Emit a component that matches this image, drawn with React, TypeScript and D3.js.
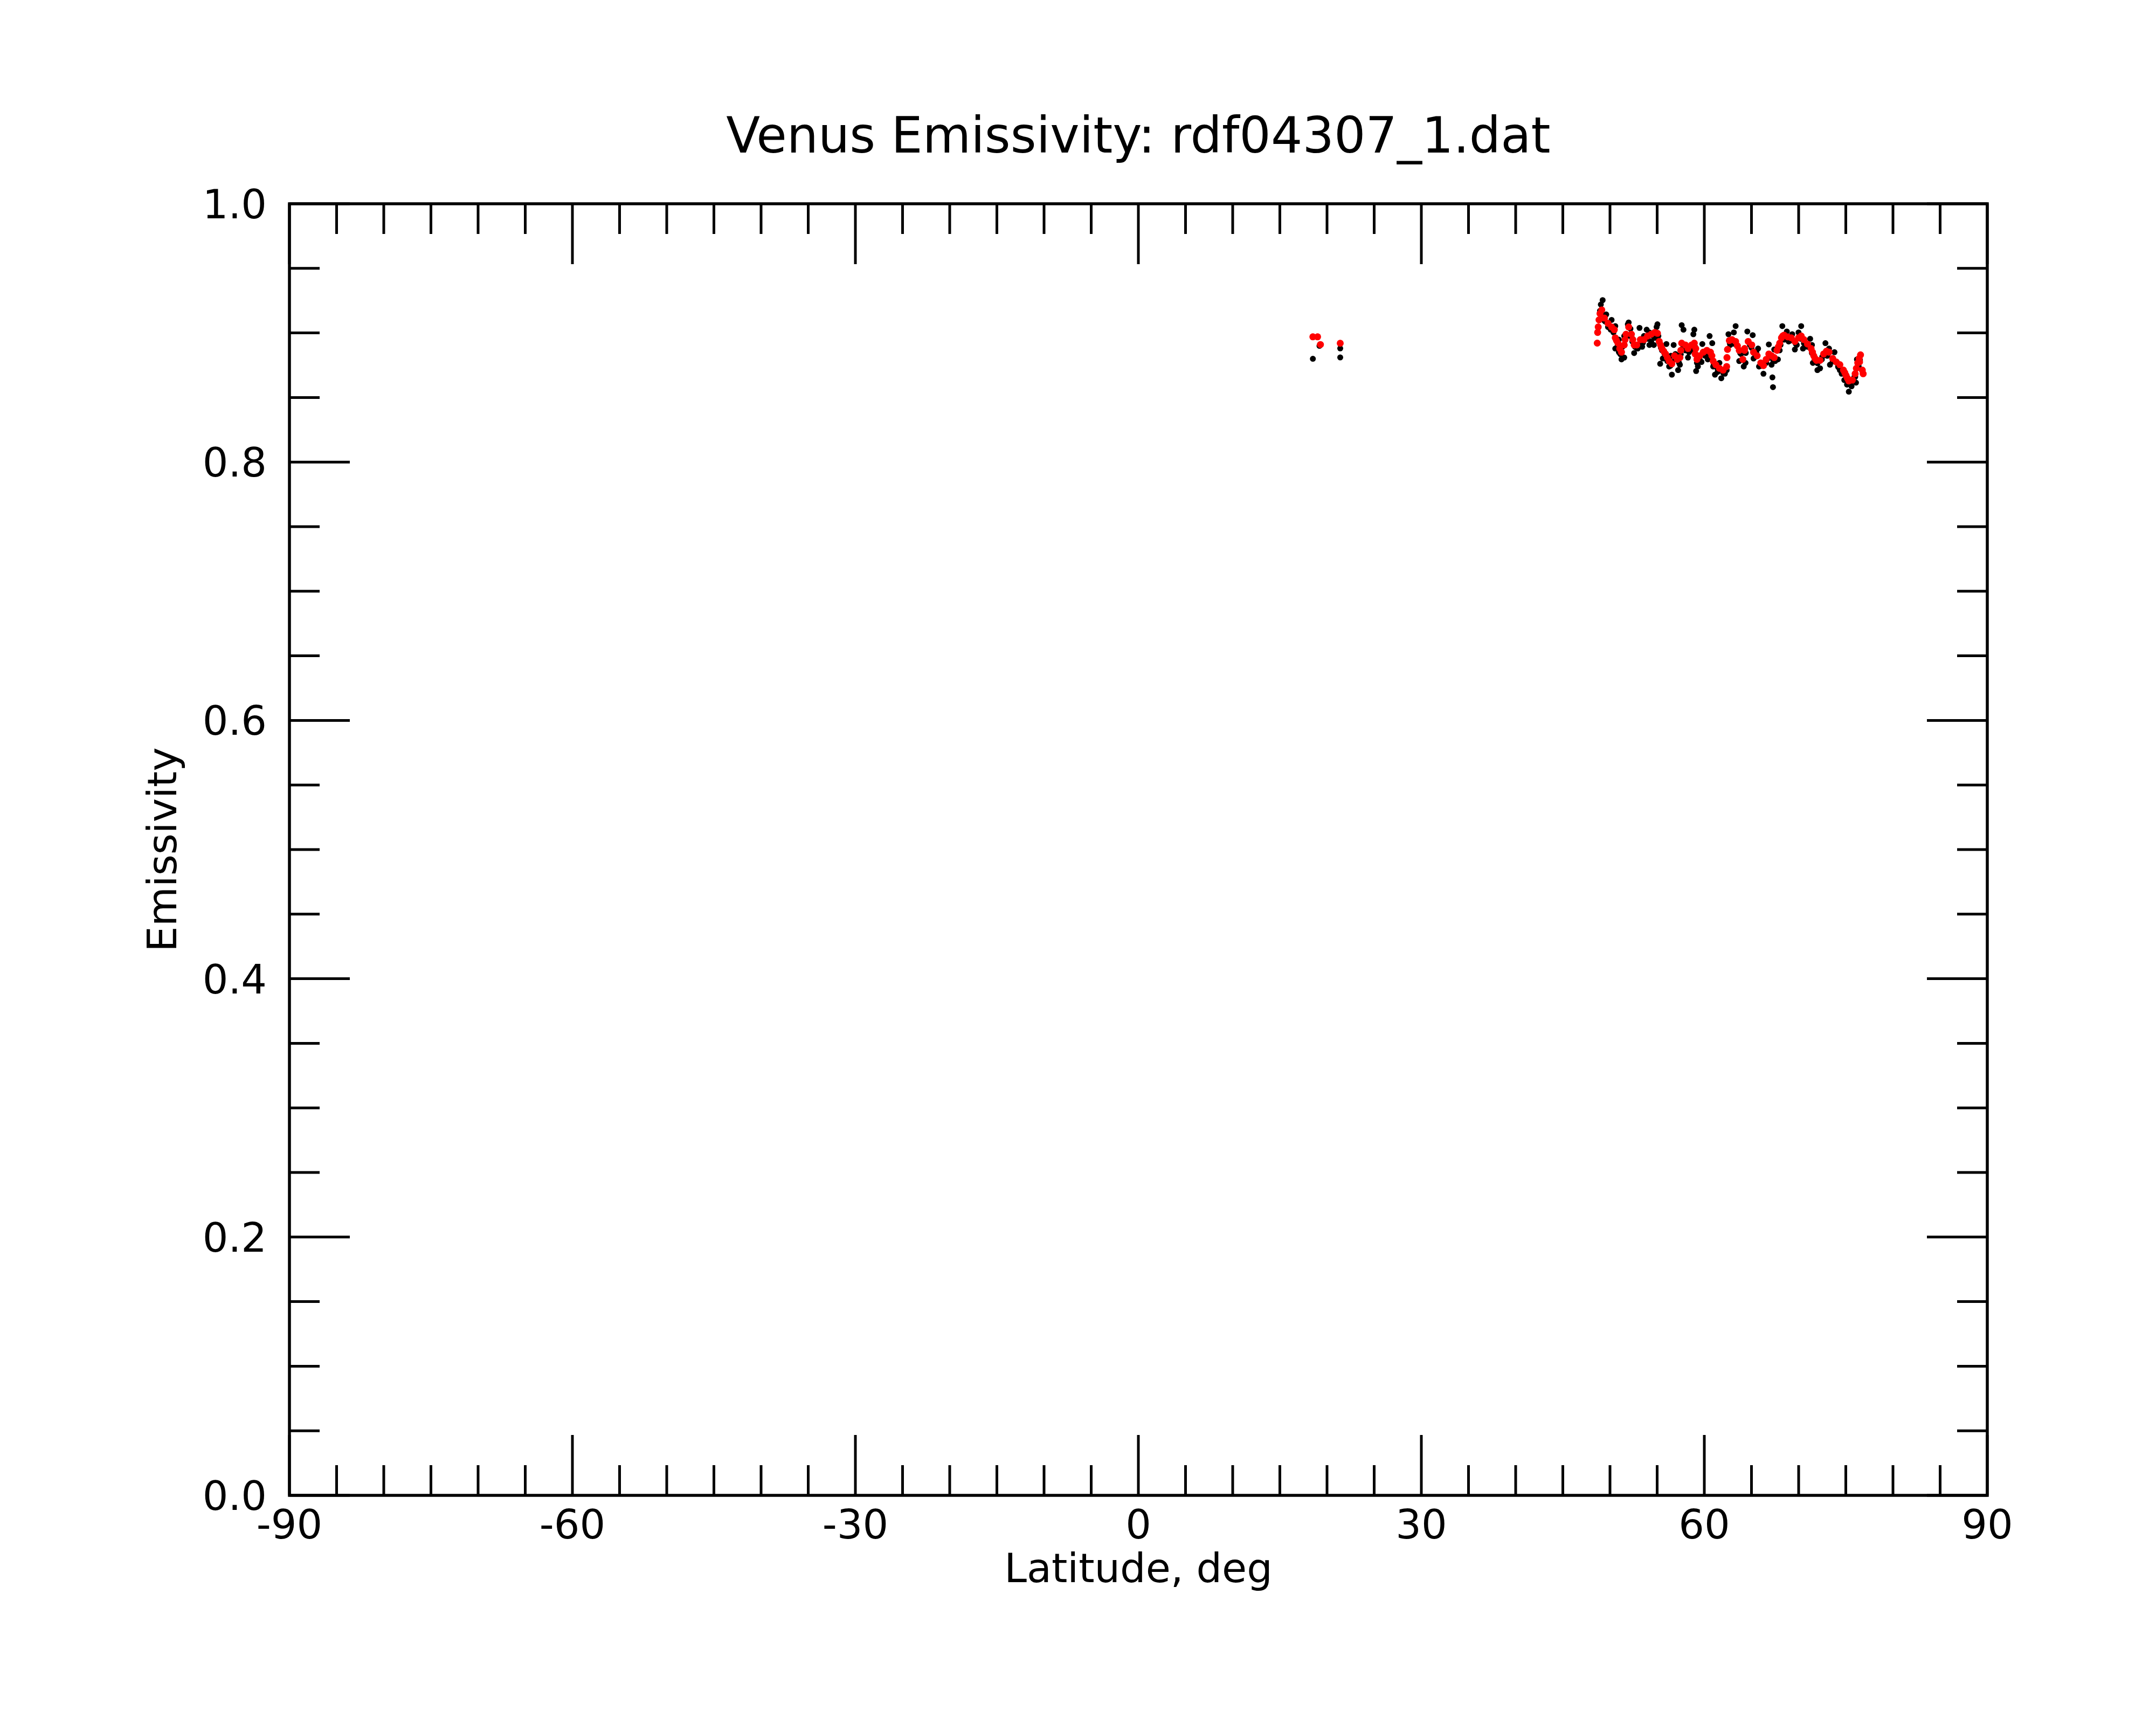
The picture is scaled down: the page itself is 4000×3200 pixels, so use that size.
import * as d3 from "d3"

// latitude ticks (deg) and emissivity ticks
const xMajorTicks = [-90, -60, -30, 0, 30, 60, 90]
const xMinorTicks = d3.range(-90, 91, 5).filter((t) => t % 30 !== 0)
const yMajorTicks = [0, 0.2, 0.4, 0.6, 0.8, 1.0]
const yMinorTicks = [0.05, 0.1, 0.15, 0.25, 0.3, 0.35, 0.45, 0.5, 0.55, 0.65, 0.7, 0.75, 0.85, 0.9, 0.95]
const yTickLabels = ["0.0", "0.2", "0.4", "0.6", "0.8", "1.0"]

// raw samples (black), [latitude, emissivity]
const rawLowLat: [number, number][] = [
  [18.5, 0.880], [19.2, 0.890], [21.4, 0.888], [21.4, 0.881],
]

const rawHighLat: [number, number][] = [
  [49.22, 0.9254], [49.03, 0.922], [48.94, 0.9171], [49.22, 0.9143], [49.6, 0.9143], [49.51, 0.9088],
  [49.79, 0.9046], [50.17, 0.9101], [50.08, 0.9025], [50.56, 0.9053], [50.37, 0.9004], [50.65, 0.8948],
  [50.94, 0.8948], [50.56, 0.8879], [50.94, 0.8851], [51.22, 0.8795], [51.51, 0.8809], [51.32, 0.8893],
  [51.51, 0.8976], [51.89, 0.9067], [51.98, 0.9081], [52.17, 0.9032], [52.37, 0.8934], [52.56, 0.8844],
  [52.65, 0.8893], [52.94, 0.8879], [53.13, 0.9039], [53.22, 0.8921], [53.41, 0.8893], [53.6, 0.8976],
  [53.89, 0.9025], [54.18, 0.9004], [54.18, 0.8907], [54.37, 0.8934], [54.65, 0.8907], [54.75, 0.8962],
  [54.94, 0.9046], [55.03, 0.9067], [55.13, 0.8976], [55.32, 0.8761], [55.51, 0.8865], [55.6, 0.8802],
  [55.79, 0.8837], [55.98, 0.8914], [56.08, 0.8782], [56.27, 0.874], [56.46, 0.8823], [56.56, 0.8677],
  [56.75, 0.8907], [56.94, 0.8837], [57.22, 0.8712], [57.32, 0.8768], [57.41, 0.8754], [57.6, 0.906],
  [57.79, 0.9025], [57.7, 0.8879], [57.99, 0.8865], [58.27, 0.8809], [58.37, 0.8851], [58.84, 0.899],
  [58.94, 0.9025], [58.75, 0.8865], [59.13, 0.8705], [59.22, 0.8768], [59.32, 0.874], [59.7, 0.8775],
  [59.79, 0.8914], [60.08, 0.8823], [60.37, 0.8795], [60.56, 0.8976], [60.84, 0.8921], [60.94, 0.874],
  [61.13, 0.8677], [61.41, 0.8698], [61.8, 0.8649], [61.6, 0.8768], [62.18, 0.8684], [62.37, 0.8712],
  [62.56, 0.899], [62.75, 0.8907], [63.13, 0.9004], [63.32, 0.9053], [63.41, 0.8907], [63.7, 0.8782],
  [63.89, 0.8837], [64.08, 0.8851],
  [64.18, 0.874], [64.37, 0.8768], [64.56, 0.9011], [64.84, 0.8907], [65.13, 0.8983], [65.22, 0.8802],
  [65.51, 0.8851], [65.7, 0.8879], [65.8, 0.874], [66.08, 0.8754], [66.27, 0.8684], [66.56, 0.8768],
  [66.84, 0.8911], [67.13, 0.8754], [67.22, 0.8656], [67.28, 0.858], [67.41, 0.8872], [67.51, 0.8782],
  [67.8, 0.8795], [67.99, 0.8865], [68.08, 0.8907], [68.27, 0.9053], [68.46, 0.8948], [68.75, 0.9011],
  [68.94, 0.8934], [69.32, 0.899], [69.6, 0.8872], [69.8, 0.8907], [69.99, 0.9004], [70.27, 0.9053],
  [70.46, 0.8879], [70.56, 0.8921], [70.94, 0.8893], [71.22, 0.8955], [71.41, 0.8907], [71.51, 0.8768],
  [71.7, 0.8795], [71.99, 0.8712], [72.27, 0.8726], [72.46, 0.8795], [72.84, 0.8921], [73.03, 0.8823],
  [73.22, 0.8879], [73.32, 0.8754], [73.61, 0.8782], [73.8, 0.8851], [74.18, 0.874], [74.37, 0.8712],
  [74.56, 0.8684], [74.84, 0.8635], [75.13, 0.86], [75.32, 0.8545], [75.61, 0.8587], [75.89, 0.8656],
  [76.08, 0.8615], [76.18, 0.8795], [76.37, 0.874],
  // band points just under the red trace
  [49.4, 0.9095], [50.0, 0.9035], [50.8, 0.8895], [51.1, 0.8835], [51.8, 0.8975], [52.3, 0.8965],
  [52.8, 0.8885], [53.5, 0.8925], [54.0, 0.8955], [54.6, 0.8975], [55.4, 0.8885], [55.9, 0.8815],
  [56.4, 0.8745], [56.9, 0.8795], [57.5, 0.8835], [57.9, 0.8885], [58.5, 0.8885], [59.0, 0.8895],
  [59.5, 0.8795], [60.0, 0.8835], [60.5, 0.8835], [61.0, 0.8755], [61.4, 0.8725], [62.0, 0.8690],
  [62.7, 0.8920], [63.2, 0.8915], [63.8, 0.8845], [64.4, 0.8845], [65.0, 0.8885], [65.4, 0.8815],
  [66.0, 0.8745], [66.7, 0.8800], [67.3, 0.8790], [67.9, 0.8895], [68.6, 0.8960], [69.1, 0.8940],
  [69.7, 0.8915], [70.2, 0.8955], [70.8, 0.8905], [71.4, 0.8845], [72.0, 0.8765], [72.5, 0.8815],
  [73.1, 0.8835], [73.7, 0.8780], [74.2, 0.8735], [74.7, 0.8690], [75.2, 0.8620], [75.5, 0.8610],
  [76.0, 0.8660], [76.5, 0.8790],
]

// filtered samples (red), [latitude, emissivity]
const filtLowLat: [number, number][] = [
  [18.5, 0.897], [19.0, 0.897], [19.3, 0.891], [21.4, 0.892],
]

const filtHighLat: [number, number][] = [
  [48.65, 0.8921], [48.69, 0.9004], [48.75, 0.9046], [48.84, 0.9101], [48.94, 0.915], [49.13, 0.9178],
  [49.41, 0.9115], [49.79, 0.9074], [50.17, 0.9046], [50.46, 0.9025], [50.56, 0.8962], [50.69, 0.8941],
  [50.84, 0.8921], [51.03, 0.8879], [51.22, 0.8851], [51.51, 0.8907], [51.6, 0.8948], [51.7, 0.899],
  [51.98, 0.9046], [52.27, 0.899], [52.42, 0.8948], [52.56, 0.8907], [52.84, 0.8907], [53.22, 0.8948],
  [53.6, 0.8948], [53.98, 0.8976], [54.37, 0.899], [54.75, 0.9004], [55.03, 0.8997], [55.22, 0.8934],
  [55.36, 0.8907], [55.51, 0.8879], [55.7, 0.8858], [55.89, 0.8837], [56.08, 0.8809], [56.27, 0.8782],
  [56.56, 0.8761], [56.84, 0.8823], [57.13, 0.8795], [57.41, 0.8809], [57.51, 0.8865], [57.6, 0.8921],
  [57.99, 0.8907], [58.27, 0.8879], [58.65, 0.8907], [58.94, 0.8921], [59.03, 0.8837], [59.09, 0.8879],
  [59.22, 0.8795], [59.51, 0.8823], [59.89, 0.8851], [60.27, 0.8865], [60.65, 0.8851], [60.8, 0.8823],
  [60.94, 0.8782], [61.22, 0.8754], [61.6, 0.8726], [61.99, 0.8712], [62.37, 0.874], [62.4, 0.8809],
  [62.46, 0.8872], [62.65, 0.8941], [62.94, 0.8948], [63.32, 0.8934], [63.51, 0.89], [63.7, 0.8865],
  [64.27, 0.8879], [64.08, 0.8795],
  [64.27, 0.8865], [64.65, 0.8934], [65.03, 0.8907], [65.22, 0.8851], [65.6, 0.8823], [65.99, 0.8768],
  [66.27, 0.8747], [66.56, 0.8795], [66.84, 0.8837], [67.13, 0.8823], [67.41, 0.8809], [67.7, 0.8865],
  [67.85, 0.8893], [67.99, 0.8921], [68.18, 0.8962], [68.31, 0.8976], [68.46, 0.8983], [68.84, 0.8969],
  [69.22, 0.8962], [69.6, 0.8934], [69.99, 0.8962], [70.27, 0.8976], [70.56, 0.8948], [70.94, 0.8914],
  [71.32, 0.8879], [71.47, 0.8851], [71.6, 0.8823], [71.74, 0.8802], [71.89, 0.8788], [72.27, 0.8788],
  [72.65, 0.8837], [72.94, 0.8858], [73.22, 0.8851], [73.61, 0.8802], [73.99, 0.8775], [74.37, 0.8754],
  [74.75, 0.8712], [74.9, 0.8691], [75.03, 0.867], [75.17, 0.8649], [75.32, 0.8628], [75.7, 0.8635],
  [75.99, 0.8684], [76.12, 0.8726], [76.27, 0.8768], [76.41, 0.8802], [76.56, 0.883], [76.46, 0.8775],
  [76.75, 0.8712], [76.84, 0.8684],
]

const W = 4000
const H = 3200
const margin = { left: 537, right: 313, top: 378, bottom: 426 }
const font = "DejaVu Sans"

export default function App() {
  const x = d3.scaleLinear().domain([-90, 90]).range([margin.left, W - margin.right])
  const y = d3.scaleLinear().domain([0, 1]).range([H - margin.bottom, margin.top])
  const [x0, x1] = x.range()
  const [y0, y1] = y.range()
  const major = 112
  const minor = 56
  const raw = [...rawLowLat, ...rawHighLat]
  const filt = [...filtLowLat, ...filtHighLat]

  return (
    <svg
      width={W}
      height={H}
      viewBox={`0 0 ${W} ${H}`}
      style={{ position: "absolute", left: 0, top: 0, background: "white" }}
      fontFamily={font}
    >
      <rect width={W} height={H} fill="white" />

      <g>
        {raw.map(([lat, v], i) => (
          <circle key={`b${i}`} cx={x(lat)} cy={y(v)} r={5.5} fill="black" />
        ))}
        {filt.map(([lat, v], i) => (
          <circle key={`r${i}`} cx={x(lat)} cy={y(v)} r={6.5} fill="red" />
        ))}
      </g>

      <g stroke="black" strokeWidth={5}>
        {xMajorTicks.map((t) => (
          <g key={`xm${t}`}>
            <line x1={x(t)} x2={x(t)} y1={y0} y2={y0 - major} />
            <line x1={x(t)} x2={x(t)} y1={y1} y2={y1 + major} />
          </g>
        ))}
        {xMinorTicks.map((t) => (
          <g key={`xn${t}`}>
            <line x1={x(t)} x2={x(t)} y1={y0} y2={y0 - minor} />
            <line x1={x(t)} x2={x(t)} y1={y1} y2={y1 + minor} />
          </g>
        ))}
        {yMajorTicks.map((t) => (
          <g key={`ym${t}`}>
            <line x1={x0} x2={x0 + major} y1={y(t)} y2={y(t)} />
            <line x1={x1} x2={x1 - major} y1={y(t)} y2={y(t)} />
          </g>
        ))}
        {yMinorTicks.map((t) => (
          <g key={`yn${t}`}>
            <line x1={x0} x2={x0 + minor} y1={y(t)} y2={y(t)} />
            <line x1={x1} x2={x1 - minor} y1={y(t)} y2={y(t)} />
          </g>
        ))}
        <rect x={x0} y={y1} width={x1 - x0} height={y0 - y1} fill="none" strokeWidth={5.5} />
      </g>

      <g fontSize={75} fill="black">
        {xMajorTicks.map((t) => (
          <text key={`xl${t}`} x={x(t)} y={y0 + 80} textAnchor="middle">
            {t}
          </text>
        ))}
        {yMajorTicks.map((t, i) => (
          <text key={`yl${t}`} x={x0 - 42} y={y(t)} dy="0.36em" textAnchor="end">
            {yTickLabels[i]}
          </text>
        ))}
        <text x={(x0 + x1) / 2} y={2935} textAnchor="middle">
          Latitude, deg
        </text>
        <text transform={`translate(327,${(y0 + y1) / 2}) rotate(-90)`} textAnchor="middle">
          Emissivity
        </text>
      </g>

      <text x={(x0 + x1) / 2} y={283} textAnchor="middle" fontSize={92} fill="black">
        Venus Emissivity: rdf04307_1.dat
      </text>
    </svg>
  )
}
